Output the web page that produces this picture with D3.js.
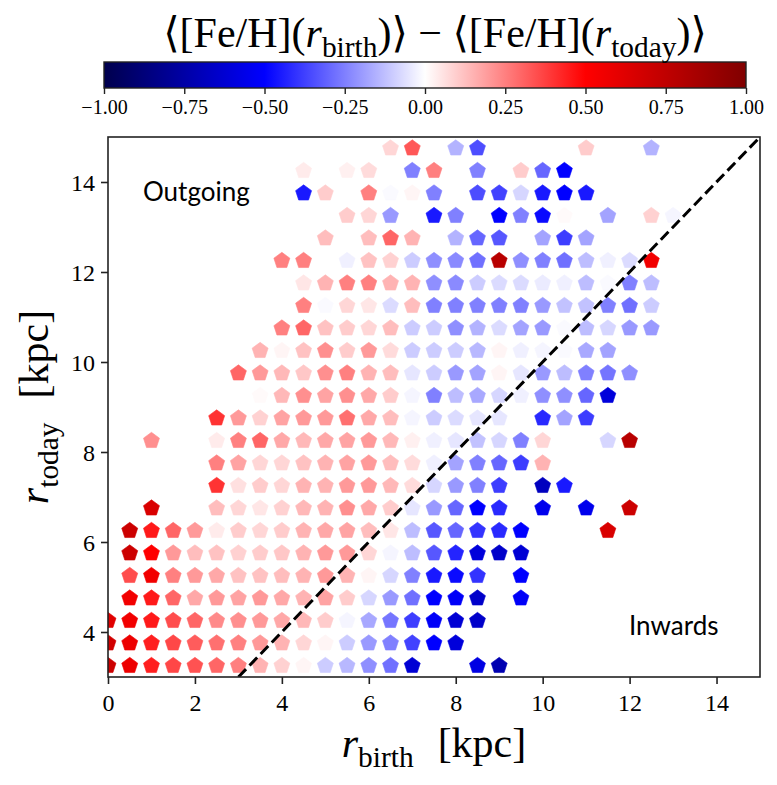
<!DOCTYPE html>
<html>
<head>
<meta charset="utf-8">
<script src="https://cdn.jsdelivr.net/npm/d3@7"></script>
<style>
  body { margin: 0; background: #fff; }
  text { fill: #000; }
</style>
</head>
<body>
<div id="chart"></div>
<script>
// grid of birth radii (columns) and present-day radii (rows), kpc
const rBirth = [0, 0.5, 1, 1.5, 2, 2.5, 3, 3.5, 4, 4.5, 5, 5.5, 6, 6.5, 7, 7.5, 8, 8.5, 9, 9.5, 10, 10.5, 11, 11.5, 12, 12.5, 13];
const rToday = [3.25, 3.75, 4.25, 4.75, 5.25, 5.75, 6.25, 6.75, 7.25, 7.75, 8.25, 8.75,
                9.25, 9.75, 10.25, 10.75, 11.25, 11.75, 12.25, 12.75, 13.25, 13.75, 14.25, 14.75];

// <[Fe/H](r_birth)> - <[Fe/H](r_today)>, one row per rToday (bottom to top), null = empty cell
const _ = null;
const dFeH = [
  [0.70, 0.57, 0.44, 0.36, 0.34, 0.30, 0.25, 0.15, 0.09, 0.02, -0.10, -0.14, -0.22, -0.28, -0.62, _, _, -0.58, -0.72],
  [0.68, 0.57, 0.44, 0.36, 0.32, 0.28, 0.25, 0.20, 0.15, 0.08, 0.02, -0.10, -0.20, -0.25, -0.37, -0.50, -0.60],
  [0.62, 0.55, 0.45, 0.35, 0.30, 0.23, 0.22, 0.20, 0.17, 0.14, 0.10, -0.02, -0.17, -0.27, -0.38, -0.52, -0.62, -0.65],
  [_, 0.55, 0.45, 0.30, 0.17, 0.20, 0.18, 0.20, 0.17, 0.15, 0.18, 0.10, -0.08, -0.20, -0.28, -0.50, -0.52, -0.65, _, -0.52],
  [_, 0.35, 0.55, 0.25, 0.20, 0.17, 0.12, 0.12, 0.13, 0.15, 0.20, 0.15, 0.02, -0.08, -0.25, -0.45, -0.48, -0.40, _, -0.50],
  [_, 0.70, 0.50, 0.20, 0.13, 0.12, 0.09, 0.10, 0.11, 0.15, 0.20, 0.20, 0.08, -0.02, -0.13, -0.33, -0.43, -0.60, -0.65, -0.62],
  [_, 0.70, 0.45, 0.30, 0.20, 0.04, 0.10, 0.08, 0.10, 0.15, 0.17, 0.18, 0.13, 0.05, -0.13, -0.33, -0.30, -0.40, -0.42, -0.50, _, _, _, 0.65],
  [_, _, 0.65, _, _, 0.13, 0.08, 0.05, 0.09, 0.14, 0.15, 0.22, 0.17, 0.10, -0.05, -0.20, -0.30, -0.50, -0.42, _, -0.55, _, -0.55, _, 0.70],
  [_, _, _, _, _, 0.40, 0.06, 0.10, 0.08, 0.15, 0.15, 0.20, 0.20, 0.14, 0.07, -0.08, -0.20, -0.25, -0.38, _, -0.68, -0.45],
  [_, _, _, _, _, 0.25, 0.18, 0.08, 0.08, 0.12, 0.15, 0.18, 0.20, 0.13, 0.07, -0.03, -0.18, -0.25, -0.30, -0.38, 0.15],
  [_, _, 0.22, _, _, 0.04, 0.25, 0.30, 0.17, 0.14, 0.17, 0.18, 0.20, 0.14, 0.03, -0.03, -0.05, -0.12, -0.08, -0.25, 0.08, _, _, -0.08, 0.78],
  [_, _, _, _, _, 0.40, 0.20, 0.09, 0.18, 0.20, 0.20, 0.28, 0.17, 0.13, -0.02, -0.10, -0.07, -0.05, -0.05, _, -0.42, -0.18, -0.38],
  [_, _, _, _, _, _, _, 0.01, 0.14, 0.22, 0.18, 0.22, 0.17, 0.10, -0.02, -0.25, -0.13, -0.17, -0.08, -0.03, -0.22, -0.22, -0.30, -0.60],
  [_, _, _, _, _, _, 0.30, 0.20, 0.14, 0.11, 0.22, 0.25, 0.15, 0.13, -0.05, -0.10, -0.20, -0.18, 0.02, -0.05, -0.20, -0.13, -0.25, -0.27, -0.22],
  [_, _, _, _, _, _, _, 0.15, 0.02, 0.12, 0.22, 0.10, 0.20, 0.07, -0.10, -0.10, -0.10, -0.14, 0.02, -0.03, -0.02, -0.01, -0.17, -0.18],
  [_, _, _, _, _, _, _, _, 0.25, 0.30, 0.12, 0.10, 0.08, 0.13, -0.10, -0.10, -0.22, -0.15, -0.07, -0.18, -0.20, -0.01, -0.13, -0.08, -0.20, -0.20],
  [_, _, _, _, _, _, _, _, _, 0.25, -0.01, 0.08, 0.05, -0.07, 0.13, -0.25, -0.25, -0.25, -0.25, -0.25, -0.20, -0.12, -0.12, -0.25, -0.28, -0.10],
  [_, _, _, _, _, _, _, _, _, 0.05, 0.15, 0.25, 0.25, 0.15, 0.15, -0.22, -0.23, -0.10, -0.07, -0.07, -0.04, -0.03, -0.13, -0.01, -0.25, -0.13],
  [_, _, _, _, _, _, _, _, 0.25, 0.25, _, -0.03, 0.12, 0.09, -0.10, -0.22, -0.23, -0.28, 0.78, -0.22, -0.25, -0.28, -0.13, -0.03, -0.07, 0.55],
  [_, _, _, _, _, _, _, _, _, _, 0.13, _, 0.13, 0.30, 0.15, _, -0.15, -0.30, -0.33, _, -0.18, -0.38, -0.18],
  [_, _, _, _, _, _, _, _, _, _, _, 0.10, 0.08, -0.20, _, -0.45, -0.25, _, -0.50, -0.25, -0.48, 0.01, _, -0.18, _, 0.09, -0.02],
  [_, _, _, _, _, _, _, _, _, -0.45, 0.10, _, 0.25, -0.01, 0.02, -0.25, _, -0.35, -0.37, -0.08, -0.45, -0.50, -0.45],
  [_, _, _, _, _, _, _, _, _, 0.04, _, 0.03, 0.07, _, -0.25, 0.25, _, -0.25, _, 0.10, -0.30, -0.50],
  [_, _, _, _, _, _, _, _, _, _, _, _, _, 0.08, 0.33, _, -0.15, -0.35, _, _, _, _, 0.10, _, _, -0.15]
];

const xTicks = [0, 2, 4, 6, 8, 10, 12, 14];
const yTicks = [4, 6, 8, 10, 12, 14];
const cbarTicks = [-1, -0.75, -0.5, -0.25, 0, 0.25, 0.5, 0.75, 1];

var serif = "'Liberation Serif', 'DejaVu Serif', serif";
var sans = "Lato, 'Open Sans', sans-serif";

var margin = {top: 137, right: 17, bottom: 108, left: 108},
    width = 777 - margin.left - margin.right,
    height = 785 - margin.top - margin.bottom;

var svg = d3.select("#chart")
    .append("svg")
    .attr("width", 777)
    .attr("height", 785);

var g = svg.append("g")
    .attr("transform", "translate(" + margin.left + "," + margin.top + ")");

var x = d3.scaleLinear().domain([0, 15]).range([0, width]);
var y = d3.scaleLinear().domain([3, 15]).range([height, 0]);

// matplotlib "seismic"
var color = d3.scaleLinear()
    .domain([-1, -0.5, 0, 0.5, 1])
    .range(["#00004d", "#0000ff", "#ffffff", "#ff0000", "#800000"])
    .clamp(true);

// flatten the grid into points
var points = [];
dFeH.forEach(function (row, i) {
    row.forEach(function (v, j) {
        if (v !== null && v !== undefined) points.push({rb: rBirth[j], rt: rToday[i], v: v});
    });
});

g.append("clipPath").attr("id", "clip")
    .append("rect").attr("width", width).attr("height", height);

// pentagon marker, pointing up
var R = 8.4;
var pentagon = d3.line().curve(d3.curveLinearClosed)(
    d3.range(5).map(function (k) {
        var a = -Math.PI / 2 + k * 2 * Math.PI / 5;
        return [R * Math.cos(a), R * Math.sin(a)];
    }));

var plot = g.append("g").attr("clip-path", "url(#clip)");

plot.selectAll("path.cell")
    .data(points)
    .enter().append("path")
    .attr("class", "cell")
    .attr("d", pentagon)
    .attr("transform", function (d) { return "translate(" + x(d.rb) + "," + y(d.rt) + ")"; })
    .style("fill", function (d) { return color(d.v); })
    .style("stroke", function (d) { return color(d.v); })
    .style("stroke-width", 0.6);

// one-to-one line
plot.append("line")
    .attr("x1", x(3)).attr("y1", y(3))
    .attr("x2", x(15)).attr("y2", y(15))
    .style("stroke", "#000")
    .style("stroke-width", 3)
    .style("stroke-dasharray", "11,5");

// axes
var xAxis = g.append("g")
    .attr("transform", "translate(0," + height + ")")
    .call(d3.axisBottom(x).tickValues(xTicks).tickSize(7).tickPadding(10).tickFormat(d3.format("d")));
var yAxis = g.append("g")
    .call(d3.axisLeft(y).tickValues(yTicks).tickSize(7).tickPadding(6).tickFormat(d3.format("d")));

[xAxis, yAxis].forEach(function (a) {
    a.select(".domain").remove();
    a.selectAll(".tick line").style("stroke", "#222").style("stroke-width", 1.6);
    a.selectAll(".tick text").style("font-family", serif).style("font-size", "24px").style("fill", "#000");
});
yAxis.selectAll(".tick text").attr("dy", "0.34em");

g.append("rect")
    .attr("width", width).attr("height", height)
    .style("fill", "none").style("stroke", "#222").style("stroke-width", 1.6);

// annotations
g.append("text").attr("x", 35).attr("y", 64)
    .style("font-family", sans).style("font-size", "26px").text("Outgoing");
g.append("text").attr("x", 521).attr("y", 498)
    .style("font-family", sans).style("font-size", "26px").text("Inwards");

// math-like label helper: segments with optional italic / subscript
function mathLabel(sel, segs, size) {
    var shift = size * 0.24, down = false;
    segs.forEach(function (s) {
        var ts = sel.append("tspan").text(s.t);
        if (s.i) ts.style("font-style", "italic");
        if (s.dx) ts.attr("dx", s.dx);
        if (s.sub) {
            ts.style("font-size", (size * 0.7) + "px");
            if (!down) { ts.attr("dy", shift); down = true; }
        } else if (down) {
            ts.attr("dy", -shift); down = false;
        }
    });
}

var xl = svg.append("text")
    .attr("x", margin.left + width / 2).attr("y", 757)
    .attr("text-anchor", "middle")
    .style("font-family", serif).style("font-size", "42px");
mathLabel(xl, [{t: "r", i: true}, {t: "birth", sub: true}, {t: "[kpc]", dx: 24}], 42);

var yl = svg.append("text")
    .attr("transform", "translate(48," + (margin.top + height / 2) + ") rotate(-90)")
    .attr("text-anchor", "middle")
    .style("font-family", serif).style("font-size", "42px");
mathLabel(yl, [{t: "r", i: true}, {t: "today", sub: true}, {t: "[kpc]", dx: 24}], 42);

// colorbar
var cb = {x0: 104, x1: 746, y0: 62, h: 26};
var cx = d3.scaleLinear().domain([-1, 1]).range([cb.x0, cb.x1]);

var grad = svg.append("defs").append("linearGradient").attr("id", "seismic");
d3.range(0, 1.0001, 0.05).forEach(function (t) {
    grad.append("stop").attr("offset", t).attr("stop-color", color(-1 + 2 * t));
});
svg.append("rect")
    .attr("x", cb.x0).attr("y", cb.y0).attr("width", cb.x1 - cb.x0).attr("height", cb.h)
    .style("fill", "url(#seismic)").style("stroke", "#222").style("stroke-width", 1.4);

var cAxis = svg.append("g")
    .attr("transform", "translate(0," + (cb.y0 + cb.h) + ")")
    .call(d3.axisBottom(cx).tickValues(cbarTicks).tickSize(6).tickPadding(6).tickFormat(d3.format(".2f")));
cAxis.select(".domain").remove();
cAxis.selectAll(".tick line").style("stroke", "#222").style("stroke-width", 1.4);
cAxis.selectAll(".tick text").style("font-family", serif).style("font-size", "20px").style("fill", "#000");

// colorbar title
var tt = svg.append("text")
    .attr("x", 435).attr("y", 47)
    .attr("text-anchor", "middle")
    .style("font-family", serif).style("font-size", "42px");
mathLabel(tt, [
    {t: "\u27e8[Fe/H]("}, {t: "r", i: true}, {t: "birth", sub: true},
    {t: ")\u27e9 \u2212 \u27e8[Fe/H]("}, {t: "r", i: true}, {t: "today", sub: true}, {t: ")\u27e9"}
], 42);
</script>
</body>
</html>
